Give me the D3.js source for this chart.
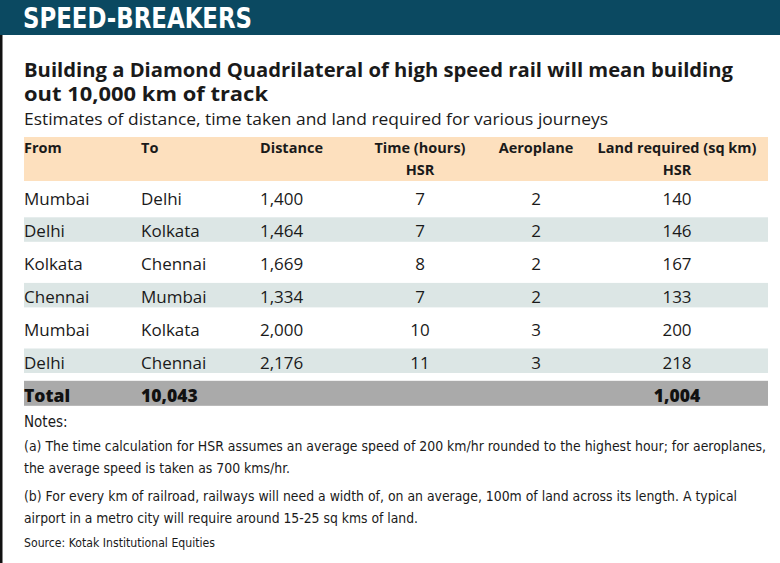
<!DOCTYPE html>
<html>
<head>
<meta charset="utf-8">
<script src="https://cdn.jsdelivr.net/npm/d3@7"></script>
<style>
  body { margin: 0; background: #fff; }
  svg { display: block; }
</style>
</head>
<body>
<div id="chart"></div>
<script>

// table data
var fromCities  = [ "Mumbai", "Delhi", "Kolkata", "Chennai", "Mumbai", "Delhi" ];
var toCities    = [ "Delhi", "Kolkata", "Chennai", "Mumbai", "Kolkata", "Chennai" ];
var distances   = [ 1400, 1464, 1669, 1334, 2000, 2176 ];
var hsrHours    = [ 7, 7, 8, 7, 10, 11 ];
var planeHours  = [ 2, 2, 2, 2, 3, 3 ];
var landHsr     = [ 140, 146, 167, 133, 200, 218 ];
var totalDistance = 10043;
var totalLand     = 1004;

var columns     = [ "from", "to", "distance", "hsr", "plane", "land" ];
var headLine1   = [ "From", "To", "Distance", "Time (hours)", "Aeroplane", "Land required (sq km)" ];
var headLine2   = [ "", "", "", "HSR", "", "HSR" ];

var notes = [
	"(a)  The time calculation for HSR assumes an average speed of 200 km/hr rounded to the highest hour; for aeroplanes,",
	"the average speed is taken as 700 kms/hr.",
	"(b)  For every km of railroad, railways will need a width of, on an average, 100m of land across its length. A typical",
	"airport in a metro city will require around 15-25 sq kms of land."
];

// --------------------------------------------------------

var chart_width   = 780;
var chart_height  = 563;
var left          = 24;
var right         = 768;
var fmt           = d3.format(",");

var bodyFont  = "'Open Sans', 'Noto Sans', sans-serif";
var narrow    = "'Liberation Sans Narrow', 'DejaVu Sans Condensed', sans-serif";

var svg = d3.select("#chart")
	.append("svg")
	.attr("width", chart_width)
	.attr("height", chart_height);

// --------------------------------------------------------
// Scales

// rows: six journeys + total
var y_scale = d3.scaleBand()
	.domain(d3.range(fromCities.length + 1))
	.range([184.5, 184.5 + 32.8 * (fromCities.length + 1)])
	.paddingInner(0);

// column anchors
var x_scale = d3.scaleOrdinal()
	.domain(columns)
	.range([ 24, 141, 260, 420, 536, 677 ]);

var anchor = d3.scaleOrdinal()
	.domain(columns)
	.range([ "start", "start", "start", "middle", "middle", "middle" ]);

// --------------------------------------------------------
// Header strip + left rule

svg.append("rect")
	.attr("x", 0).attr("y", 0)
	.attr("width", chart_width).attr("height", 35)
	.attr("fill", "#0b4961");

svg.append("rect")
	.attr("x", 0).attr("y", 35)
	.attr("width", 2.5).attr("height", chart_height - 35)
	.attr("fill", "#111");

svg.append("text")
	.attr("x", 23).attr("y", 28)
	.attr("font-family", narrow)
	.attr("font-size", 29)
	.attr("font-weight", 700)
	.attr("fill", "#fff")
	.attr("textLength", 229)
	.attr("lengthAdjust", "spacingAndGlyphs")
	.text("SPEED-BREAKERS");

// --------------------------------------------------------
// Titles

function line(txt, y, size, weight, width, font) {
	var t = svg.append("text")
		.attr("x", left).attr("y", y)
		.attr("font-family", font || bodyFont)
		.attr("font-size", size)
		.attr("font-weight", weight)
		.attr("fill", "#1a1a1a")
		.text(txt);
	if (width) {
		t.attr("textLength", width).attr("lengthAdjust", "spacingAndGlyphs");
	}
	return t;
}

line("Building a Diamond Quadrilateral of high speed rail will mean building", 77, 19, 700, 709);
line("out 10,000 km of track", 100.5, 19, 700, 244);
line("Estimates of distance, time taken and land required for various journeys", 125, 17, 400, 584);

// --------------------------------------------------------
// Table header

svg.append("rect")
	.attr("x", left).attr("y", 137)
	.attr("width", right - left).attr("height", 44)
	.attr("fill", "#fde0be");

var head = svg.append("g").attr("class", "head");

head.selectAll("text.h1")
	.data(columns)
	.enter()
	.append("text")
	.attr("class", "h1")
	.attr("x", (d) => x_scale(d))
	.attr("y", 153)
	.attr("text-anchor", (d) => anchor(d))
	.attr("font-family", bodyFont)
	.attr("font-size", 14.5)
	.attr("font-weight", 700)
	.attr("fill", "#1a1a1a")
	.text((d, i) => headLine1[i]);

head.selectAll("text.h2")
	.data(columns)
	.enter()
	.append("text")
	.attr("class", "h2")
	.attr("x", (d) => x_scale(d))
	.attr("y", 175)
	.attr("text-anchor", (d) => anchor(d))
	.attr("font-family", bodyFont)
	.attr("font-size", 14.5)
	.attr("font-weight", 700)
	.attr("fill", "#1a1a1a")
	.text((d, i) => headLine2[i]);

// --------------------------------------------------------
// Body rows

var rows = fromCities.map((d, i) => ({
	from: d,
	to: toCities[i],
	distance: fmt(distances[i]),
	hsr: hsrHours[i],
	plane: planeHours[i],
	land: landHsr[i]
}));

var body = svg.append("g").attr("class", "body");

// alternate shading
body.selectAll("rect.band")
	.data(rows.map((d, i) => i).filter((i) => i % 2 === 1))
	.enter()
	.append("rect")
	.attr("class", "band")
	.attr("x", left)
	.attr("y", (i) => y_scale(i))
	.attr("width", right - left)
	.attr("height", 24.5)
	.attr("fill", "#dce6e5");

var rowG = body.selectAll("g.row")
	.data(rows)
	.enter()
	.append("g")
	.attr("class", "row")
	.attr("transform", (d, i) => "translate(0," + (y_scale(i) + 20) + ")");

rowG.selectAll("text")
	.data((d) => columns.map((c) => ({ col: c, val: d[c] })))
	.enter()
	.append("text")
	.attr("x", (d) => x_scale(d.col))
	.attr("text-anchor", (d) => anchor(d.col))
	.attr("font-family", bodyFont)
	.attr("font-size", 17)
	.attr("fill", "#1a1a1a")
	.text((d) => d.val);

// total row
var ti = fromCities.length;
svg.append("rect")
	.attr("x", left)
	.attr("y", y_scale(ti) - 0.5)
	.attr("width", right - left)
	.attr("height", 25)
	.attr("fill", "#aaaaaa");

var totals = [
	{ col: "from", val: "Total" },
	{ col: "to", val: fmt(totalDistance) },
	{ col: "land", val: fmt(totalLand) }
];

svg.append("g")
	.selectAll("text")
	.data(totals)
	.enter()
	.append("text")
	.attr("x", (d) => x_scale(d.col))
	.attr("y", y_scale(ti) + 20.5)
	.attr("text-anchor", (d) => anchor(d.col))
	.attr("font-family", bodyFont)
	.attr("font-size", 17.5)
	.attr("font-weight", 800)
	.attr("fill", "#111")
	.text((d) => d.val);

// --------------------------------------------------------
// Notes

line("Notes:", 427, 15, 400, 0, narrow);
line(notes[0], 451, 14, 400, 742, narrow);
line(notes[1], 473, 14.5, 400, 266, narrow);
line(notes[2], 501, 14.5, 400, 713, narrow);
line(notes[3], 523, 14.5, 400, 394, narrow);
line("Source: Kotak Institutional Equities", 547, 12.5, 400, 191, narrow);

</script>
</body>
</html>
